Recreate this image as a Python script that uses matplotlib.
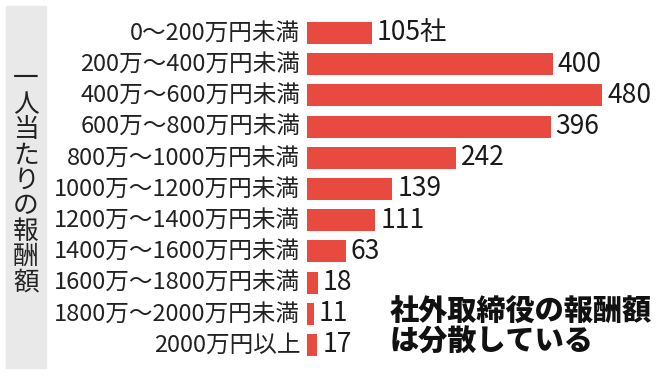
import matplotlib
matplotlib.use("Agg")
import matplotlib.pyplot as plt
from matplotlib.patches import Rectangle

plt.rcParams['font.family'] = ['Noto Sans CJK JP', 'DejaVu Sans']

# data
categories = ["0～200万円未満", "200万～400万円未満", "400万～600万円未満",
              "600万～800万円未満", "800万～1000万円未満", "1000万～1200万円未満",
              "1200万～1400万円未満", "1400万～1600万円未満", "1600万～1800万円未満",
              "1800万～2000万円未満", "2000万円以上"]
counts = [105, 400, 480, 396, 242, 139, 111, 63, 18, 11, 17]
value_labels = [f"{c}社" if i == 0 else str(c) for i, c in enumerate(counts)]
side_title = "一人当たりの報酬額"
note = "社外取締役の報酬額\nは分散している"

W, H = 671, 377
fig = plt.figure(figsize=(W / 100, H / 100), dpi=100)
fig.patch.set_facecolor("white")

# gray side panel with vertical title
fig.patches.append(Rectangle((6 / W, 1 - 368 / H), 40 / W, 362 / H,
                             transform=fig.transFigure, color="#e9e9e9", zorder=0))
fig.text(26 / W, 1 - 181 / H, "\n".join(side_title), ha="center", va="center",
         fontsize=18.5, linespacing=0.97, color="#222222")

# bar axes: left edge at x=307px, 0.615 px per unit
px_per_unit = 0.615
ax_left, ax_right = 307, 671
top, bottom = 17.4, 360.6
ax = fig.add_axes([ax_left / W, 1 - bottom / H, (ax_right - ax_left) / W, (bottom - top) / H])
ax.set_xlim(0, (ax_right - ax_left) / px_per_unit)
ax.set_ylim(len(counts) - 0.5, -0.5)
ax.axis("off")

y = range(len(counts))
ax.barh(y, counts, height=0.7, color="#e84a3f", left=0)
for i, (c, lab) in enumerate(zip(counts, value_labels)):
    ax.text(c + 8, i, lab, va="center", ha="left", fontsize=19, color="#1a1a1a")
    ax.text(-11, i, categories[i], va="center", ha="right", fontsize=17,
            color="#222222", clip_on=False)

fig.text(390 / W, 1 - 327 / H, note, ha="left", va="center", fontsize=21,
         fontweight="heavy", linespacing=1.0, color="#111111")

fig.savefig("out.png", dpi=100)
